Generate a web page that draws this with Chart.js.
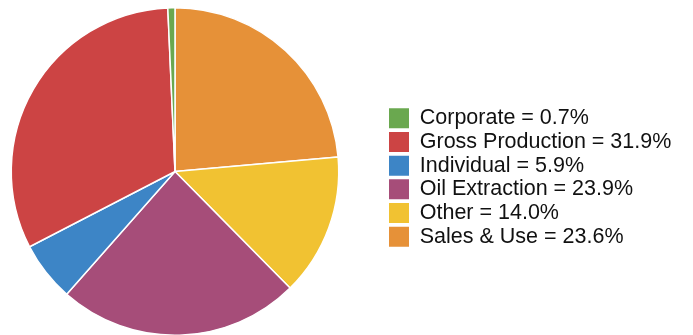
<!DOCTYPE html>
<html>
<head>
<meta charset="utf-8">
<script src="https://cdn.jsdelivr.net/npm/chart.js@4/dist/chart.umd.min.js"></script>
<style>
  html, body { margin: 0; padding: 0; overflow: hidden; background: #fff; }
  canvas { display: block; }
</style>
</head>
<body>
<canvas id="c" width="693" height="340"></canvas>
<script>
// Tax revenue shares by source (percent)
const categories = ['Corporate', 'Gross Production', 'Individual', 'Oil Extraction', 'Other', 'Sales & Use'];
const shares = [0.7, 31.9, 5.9, 23.9, 14.0, 23.6];
const colors = ['#6aa84f', '#cc4444', '#3d85c6', '#a64d79', '#f1c232', '#e69138'];

// Chart.js sweeps clockwise from 12 o'clock; the slices read counter-clockwise
// in legend order, so the dataset is fed the reversed sequence.
const sliceLabels = categories.slice().reverse();
const sliceValues = shares.slice().reverse();
const sliceColors = colors.slice().reverse();
const sliceIndex = i => categories.length - 1 - i;

// Moves the legend block to a fixed column beside the pie.
const legendPlacement = {
  id: 'legendPlacement',
  afterLayout(chart, args, opts) {
    const lg = chart.legend;
    if (!lg) return;
    const dx = opts.x - (lg.left + lg.options.labels.padding);
    lg.left += dx; lg.right += dx;
    lg.top += opts.dy; lg.bottom += opts.dy;
  }
};

new Chart(document.getElementById('c'), {
  type: 'pie',
  data: {
    labels: sliceLabels,
    datasets: [{
      data: sliceValues,
      backgroundColor: sliceColors,
      borderColor: '#ffffff',
      borderWidth: 1.5,
      hoverOffset: 0
    }]
  },
  options: {
    responsive: false,
    animation: false,
    layout: { padding: { left: 0, right: 48.5, top: 7, bottom: 4 } },
    plugins: {
      tooltip: { enabled: false },
      legendPlacement: { x: 389, dy: 6 },
      legend: {
        position: 'right',
        align: 'center',
        labels: {
          boxWidth: 20,
          boxHeight: 20,
          padding: 2.2,
          color: '#111111',
          font: { family: "'Liberation Sans', Arial, sans-serif", size: 21.5 },
          generateLabels: chart => categories.map((name, i) => ({
            text: `${name} = ${shares[i].toFixed(1)}%`,
            fillStyle: colors[i],
            strokeStyle: colors[i],
            lineWidth: 0,
            fontColor: '#111111',
            hidden: !chart.getDataVisibility(sliceIndex(i)),
            index: sliceIndex(i)
          }))
        }
      }
    }
  },
  plugins: [legendPlacement]
});
</script>
</body>
</html>
